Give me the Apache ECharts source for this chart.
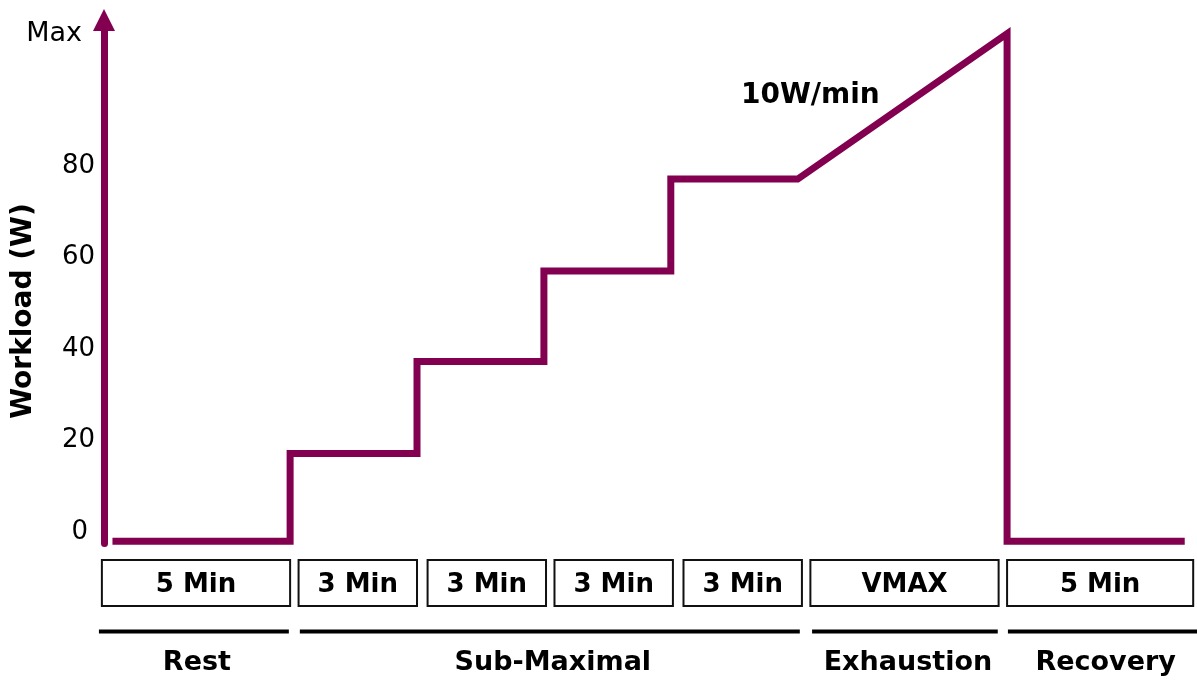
<!DOCTYPE html>
<html>
<head>
<meta charset="utf-8">
<script src="https://cdn.jsdelivr.net/npm/echarts@6/dist/echarts.min.js"></script>
<style>
  html, body { margin: 0; padding: 0; background: #fff; }
  #chart { width: 1197px; height: 684px; }
</style>
</head>
<body>
<div id="chart"></div>
<script>
// protocol trace: time (schematic minutes) vs workload (W)
var timeMin = [0.2, 4.4, 4.4, 7.4, 7.4, 10.4, 10.4, 13.4, 13.4, 16.4, 21.35, 21.35, 25.55]
var workload = [-2, -2, 17.2, 17.2, 37.3, 37.3, 57.1, 57.1, 77.2, 77.2, 109, -2, -2]

var yTicks = [0, 20, 40, 60, 80, 109]
var maxTick = 109
var yTitle = "Workload (W)"

// stage boxes under the trace
var boxLabels = ["5 Min", "3 Min", "3 Min", "3 Min", "3 Min", "VMAX", "5 Min"]
var boxFrom = [-0.05, 4.6, 7.65, 10.65, 13.7, 16.7, 21.35]
var boxTo = [4.4, 7.4, 10.45, 13.45, 16.5, 21.15, 25.75]

// phases
var phaseLabels = ["Rest", "Sub-Maximal", "Exhaustion", "Recovery"]
var phaseFrom = [-0.12, 4.63, 16.74, 21.37]
var phaseTo = [4.37, 16.45, 21.13, 25.85]

var rampNote = "10W/min"

var purple = "#82004f"
var font = "DejaVu Sans"
var yMin = -2.5

var chart = echarts.init(document.getElementById("chart"))

var lineData = []
for (var i = 0; i < timeMin.length; i++) {
    lineData.push([timeMin[i], workload[i]])
}

var boxData = []
for (var i = 0; i < boxLabels.length; i++) {
    boxData.push([boxFrom[i], boxTo[i], boxLabels[i]])
}

var phaseData = []
for (var i = 0; i < phaseLabels.length; i++) {
    phaseData.push([phaseFrom[i], phaseTo[i], phaseLabels[i]])
}

var option = {
    animation: false,
    grid: {
        left: 104,
        top: 20,
        width: 1093,
        height: 523.5,
        outerBoundsMode: "none"
    },
    // y title sits a bit below the middle of the axis in the original
    graphic: [
        {
            type: "text",
            x: 24,
            y: 311,
            rotation: Math.PI / 2,
            style: {
                text: yTitle,
                align: "center",
                verticalAlign: "middle",
                fontFamily: font,
                fontWeight: "bold",
                fontSize: 28,
                fill: "#000"
            }
        }
    ],
    xAxis: {
        type: "value",
        min: 0,
        max: 25.84,
        show: false
    },
    yAxis: {
        type: "value",
        min: yMin,
        max: 112,
        axisLine: {
            show: true,
            onZero: false,
            symbol: ["none", "triangle"],
            symbolSize: [22, 22],
            lineStyle: { color: purple, width: 7 }
        },
        axisTick: { show: false },
        splitLine: { show: false },
        axisLabel: {
            customValues: yTicks,
            margin: 9,
            fontFamily: font,
            fontSize: 26,
            color: "#000",
            formatter: function (v) {
                if (v === maxTick) return "{m|Max}"
                if (v === 0) return "{z|0}"
                return String(v)
            },
            rich: {
                m: { fontFamily: font, fontSize: 27, color: "#000", padding: [0, 13, 0, 0] },
                z: { fontFamily: font, fontSize: 26, color: "#000", padding: [0, 7, 0, 0] }
            }
        }
    },
    series: [
        {
            type: "line",
            data: lineData,
            symbol: "none",
            lineStyle: { color: purple, width: 7, join: "miter", cap: "butt" },
            markPoint: {
                symbol: "circle",
                symbolSize: 0,
                data: [{ coord: [16.7, 95.5], value: rampNote }],
                label: {
                    show: true,
                    position: "inside",
                    formatter: rampNote,
                    fontFamily: font,
                    fontWeight: "bold",
                    fontSize: 28,
                    color: "#000"
                }
            }
        },
        {
            type: "custom",
            clip: false,
            silent: true,
            data: boxData,
            renderItem: function (params, api) {
                var p0 = api.coord([api.value(0), yMin])
                var p1 = api.coord([api.value(1), yMin])
                var base = p0[1]
                return {
                    type: "group",
                    children: [
                        {
                            type: "rect",
                            shape: { x: p0[0], y: base + 16.5, width: p1[0] - p0[0], height: 46 },
                            style: { fill: "#fff", stroke: "#111", lineWidth: 2 }
                        },
                        {
                            type: "text",
                            style: {
                                x: (p0[0] + p1[0]) / 2,
                                y: base + 41.5,
                                text: api.value(2),
                                align: "center",
                                verticalAlign: "middle",
                                fontFamily: font,
                                fontWeight: "bold",
                                fontSize: 26,
                                fill: "#000"
                            }
                        }
                    ]
                }
            }
        },
        {
            type: "custom",
            clip: false,
            silent: true,
            data: phaseData,
            renderItem: function (params, api) {
                var p0 = api.coord([api.value(0), yMin])
                var p1 = api.coord([api.value(1), yMin])
                var base = p0[1]
                return {
                    type: "group",
                    children: [
                        {
                            type: "line",
                            shape: { x1: p0[0], y1: base + 88, x2: p1[0], y2: base + 88 },
                            style: { stroke: "#000", lineWidth: 4 }
                        },
                        {
                            type: "text",
                            style: {
                                x: (p0[0] + p1[0]) / 2 + 3,
                                y: base + 119,
                                text: api.value(2),
                                align: "center",
                                verticalAlign: "middle",
                                fontFamily: font,
                                fontWeight: "bold",
                                fontSize: 27,
                                fill: "#000"
                            }
                        }
                    ]
                }
            }
        }
    ]
}

chart.setOption(option)
</script>
</body>
</html>
